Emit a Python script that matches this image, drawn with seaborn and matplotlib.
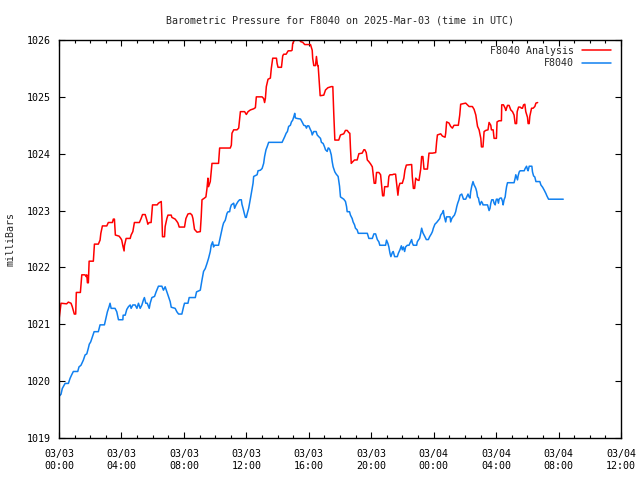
import matplotlib
matplotlib.use('Agg')
import matplotlib.pyplot as plt
import matplotlib.dates as mdates
import seaborn as sns
import pandas as pd

sns.set_theme(style='ticks')
plt.rcParams['font.family'] = ['DejaVu Sans Mono']

# hours after 2025-03-03 00:00 UTC, pressure in millibars
analysis_hours = [
    0.00, 0.13, 0.49, 0.60, 0.77, 0.85, 0.98, 1.07, 1.11, 1.37, 1.46, 1.67, 1.73, 1.78, 1.82, 1.88,
    1.93, 2.20, 2.27, 2.52, 2.63, 2.68, 2.78, 3.06, 3.16, 3.42, 3.48, 3.55, 3.61, 3.85, 3.96, 4.02,
    4.09, 4.17, 4.19, 4.30, 4.56, 4.62, 4.73, 4.83, 5.15, 5.26, 5.35, 5.52, 5.63, 5.69, 5.78, 5.90,
    5.99, 6.29, 6.37, 6.55, 6.59, 6.63, 6.76, 6.80, 6.91, 6.98, 7.19, 7.23, 7.44, 7.55, 7.62, 7.70,
    8.04, 8.13, 8.26, 8.41, 8.52, 8.58, 8.68, 8.84, 9.05, 9.11, 9.16, 9.32, 9.41, 9.48, 9.54, 9.58,
    9.69, 9.80, 10.22, 10.29, 10.97, 11.04, 11.08, 11.19, 11.40, 11.51, 11.62, 11.89, 12.00, 12.11,
    12.26, 12.47, 12.58, 12.64, 13.01, 13.11, 13.17, 13.22, 13.28, 13.39, 13.54, 13.60, 13.69, 13.93,
    13.97, 14.03, 14.25, 14.33, 14.39, 14.55, 14.68, 14.87, 14.93, 14.97, 15.06, 15.14, 15.40, 15.49,
    15.61, 15.74, 16.11, 16.22, 16.25, 16.32, 16.43, 16.49, 16.56, 16.60, 16.64, 16.69, 16.73, 16.96,
    17.07, 17.22, 17.44, 17.54, 17.60, 17.67, 17.92, 18.03, 18.24, 18.35, 18.46, 18.57, 18.63, 18.67,
    18.72, 18.82, 18.93, 19.10, 19.21, 19.42, 19.53, 19.59, 19.68, 19.75, 19.85, 19.96, 20.07, 20.13,
    20.19, 20.28, 20.34, 20.49, 20.60, 20.66, 20.73, 20.81, 20.86, 21.07, 21.13, 21.20, 21.35, 21.45,
    21.56, 21.63, 21.71, 21.77, 21.84, 21.99, 22.09, 22.16, 22.25, 22.59, 22.63, 22.70, 22.78, 22.85,
    22.95, 23.06, 23.17, 23.23, 23.31, 23.38, 23.60, 23.70, 23.92, 24.13, 24.19, 24.24, 24.45, 24.56,
    24.73, 24.77, 24.83, 24.98, 25.09, 25.20, 25.30, 25.58, 25.67, 25.73, 26.05, 26.16, 26.27, 26.48,
    26.59, 26.70, 26.81, 26.91, 27.02, 27.06, 27.16, 27.23, 27.34, 27.48, 27.55, 27.66, 27.70, 27.81,
    27.87, 28.02, 28.06, 28.19, 28.34, 28.36, 28.47, 28.58, 28.62, 28.73, 28.83, 28.94, 29.05, 29.15,
    29.22, 29.31, 29.35, 29.44, 29.54, 29.63, 29.69, 29.76, 29.84, 29.90, 30.01, 30.05, 30.12, 30.16,
    30.27, 30.37, 30.48, 30.55, 30.66,
]
analysis_mbar = [
    1021.08, 1021.37, 1021.36, 1021.39, 1021.37, 1021.31, 1021.18, 1021.18, 1021.56, 1021.56, 1021.87, 1021.87, 1021.84, 1021.87, 1021.73, 1021.73,
    1022.11, 1022.11, 1022.41, 1022.41, 1022.48, 1022.60, 1022.73, 1022.73, 1022.79, 1022.79, 1022.85, 1022.85, 1022.57, 1022.55, 1022.51, 1022.48,
    1022.38, 1022.29, 1022.38, 1022.51, 1022.51, 1022.57, 1022.63, 1022.79, 1022.79, 1022.86, 1022.93, 1022.93, 1022.83, 1022.76, 1022.79, 1022.79,
    1023.10, 1023.10, 1023.13, 1023.16, 1022.89, 1022.54, 1022.54, 1022.72, 1022.86, 1022.92, 1022.92, 1022.88, 1022.85, 1022.81, 1022.78, 1022.71,
    1022.71, 1022.86, 1022.94, 1022.95, 1022.92, 1022.86, 1022.67, 1022.62, 1022.63, 1022.89, 1023.19, 1023.22, 1023.24, 1023.39, 1023.57, 1023.42,
    1023.51, 1023.83, 1023.83, 1024.10, 1024.10, 1024.15, 1024.36, 1024.42, 1024.42, 1024.45, 1024.74, 1024.74, 1024.69, 1024.74,
    1024.77, 1024.79, 1024.81, 1025.00, 1025.00, 1024.97, 1024.90, 1024.97, 1025.18, 1025.31, 1025.33, 1025.50, 1025.68, 1025.68,
    1025.59, 1025.52, 1025.52, 1025.72, 1025.75, 1025.75, 1025.81, 1025.81, 1025.82, 1025.94, 1025.99, 1026.00, 1026.00, 1025.97,
    1025.96, 1025.92, 1025.92, 1025.82, 1025.68, 1025.55, 1025.55, 1025.71, 1025.55, 1025.55, 1025.38, 1025.18, 1025.02, 1025.03,
    1025.12, 1025.16, 1025.18, 1025.18, 1024.71, 1024.24, 1024.24, 1024.33, 1024.35, 1024.41, 1024.41, 1024.37, 1024.36, 1024.10,
    1023.83, 1023.86, 1023.89, 1023.89, 1024.00, 1024.01, 1024.07, 1024.07, 1024.02, 1023.89, 1023.86, 1023.82, 1023.77, 1023.63,
    1023.48, 1023.48, 1023.67, 1023.67, 1023.63, 1023.45, 1023.26, 1023.26, 1023.42, 1023.42, 1023.60, 1023.63, 1023.63, 1023.64,
    1023.64, 1023.47, 1023.27, 1023.42, 1023.48, 1023.48, 1023.57, 1023.71, 1023.80, 1023.81, 1023.60, 1023.39, 1023.39, 1023.57,
    1023.54, 1023.53, 1023.73, 1023.95, 1023.95, 1023.73, 1023.73, 1024.01, 1024.01, 1024.02, 1024.21, 1024.33, 1024.35, 1024.31,
    1024.29, 1024.36, 1024.56, 1024.54, 1024.48, 1024.45, 1024.50, 1024.50, 1024.68, 1024.87, 1024.89, 1024.86, 1024.83, 1024.83,
    1024.78, 1024.68, 1024.48, 1024.42, 1024.27, 1024.12, 1024.12, 1024.39, 1024.41, 1024.42, 1024.55, 1024.50, 1024.42, 1024.42,
    1024.27, 1024.27, 1024.56, 1024.58, 1024.58, 1024.86, 1024.86, 1024.80, 1024.76, 1024.85, 1024.85, 1024.77, 1024.74, 1024.68,
    1024.53, 1024.53, 1024.74, 1024.82, 1024.82, 1024.80, 1024.80, 1024.86, 1024.87, 1024.74, 1024.64, 1024.53, 1024.53, 1024.66,
    1024.80, 1024.80, 1024.83, 1024.89, 1024.90,
]

station_hours = [
    0.00, 0.13, 0.21, 0.39, 0.60, 0.71, 0.81, 0.92, 1.20, 1.28, 1.41, 1.56, 1.67, 1.78, 1.88, 1.94,
    2.03, 2.14, 2.25, 2.52, 2.63, 2.91, 3.00, 3.10, 3.21, 3.27, 3.34, 3.59, 3.70, 3.81, 4.09, 4.11,
    4.24, 4.34, 4.45, 4.56, 4.62, 4.73, 4.88, 4.99, 5.09, 5.20, 5.31, 5.41, 5.47, 5.56, 5.65, 5.78,
    5.84, 5.95, 6.12, 6.22, 6.37, 6.59, 6.69, 6.80, 6.91, 7.01, 7.12, 7.19, 7.44, 7.55, 7.66, 7.87,
    7.98, 8.04, 8.26, 8.34, 8.73, 8.81, 9.05, 9.16, 9.26, 9.37, 9.48, 9.58, 9.69, 9.75, 9.84, 9.90,
    9.95, 10.22, 10.29, 10.33, 10.40, 10.48, 10.54, 10.65, 10.76, 10.83, 10.93, 10.97, 11.04, 11.19,
    11.25, 11.34, 11.47, 11.57, 11.62, 11.68, 11.72, 11.79, 11.87, 11.94, 12.00, 12.06, 12.15, 12.21,
    12.28, 12.37, 12.43, 12.47, 12.69, 12.75, 12.90, 13.01, 13.11, 13.17, 13.26, 13.33, 13.43, 14.29,
    14.36, 14.46, 14.55, 14.63, 14.71, 14.82, 14.89, 14.97, 15.04, 15.10, 15.14, 15.25, 15.47, 15.57,
    15.68, 15.79, 15.85, 15.91, 16.00, 16.06, 16.11, 16.17, 16.22, 16.32, 16.47, 16.54, 16.64, 16.75,
    16.81, 16.92, 17.01, 17.07, 17.18, 17.24, 17.28, 17.35, 17.44, 17.50, 17.56, 17.67, 17.76, 17.88,
    17.97, 18.03, 18.14, 18.24, 18.35, 18.42, 18.46, 18.61, 18.67, 18.78, 18.84, 18.93, 18.99, 19.10,
    19.17, 19.75, 19.85, 20.07, 20.17, 20.28, 20.39, 20.49, 20.55, 20.92, 20.98, 21.07, 21.13, 21.20,
    21.26, 21.35, 21.41, 21.50, 21.67, 21.74, 21.84, 21.93, 21.99, 22.06, 22.14, 22.20, 22.31, 22.42,
    22.52, 22.59, 22.63, 22.70, 22.91, 22.95, 23.02, 23.10, 23.17, 23.23, 23.31, 23.38, 23.44, 23.53,
    23.66, 23.74, 23.85, 23.92, 23.98, 24.08, 24.19, 24.30, 24.39, 24.45, 24.56, 24.62, 24.66, 24.77,
    24.83, 25.05, 25.09, 25.16, 25.24, 25.33, 25.41, 25.48, 25.54, 25.62, 25.69, 25.80, 25.91, 26.05,
    26.12, 26.20, 26.27, 26.33, 26.37, 26.44, 26.52, 26.59, 26.65, 26.70, 26.76, 26.81, 26.87, 26.91,
    26.97, 27.06, 27.13, 27.16, 27.45, 27.51, 27.55, 27.61, 27.66, 27.72, 27.81, 27.87, 27.94, 27.98,
    28.02, 28.09, 28.15, 28.19, 28.26, 28.34, 28.41, 28.45, 28.51, 28.58, 28.62, 28.67, 28.73, 29.15,
    29.22, 29.26, 29.31, 29.37, 29.41, 29.48, 29.54, 29.80, 29.86, 29.95, 30.01, 30.05, 30.12, 30.29,
    30.33, 30.40, 30.48, 30.55, 30.80, 30.87, 30.98, 31.08, 31.19, 31.25, 31.32, 31.36, 32.30,
]
station_mbar = [
    1019.73, 1019.77, 1019.87, 1019.96, 1019.96, 1020.05, 1020.11, 1020.17, 1020.17, 1020.25, 1020.28, 1020.37, 1020.46, 1020.48, 1020.58, 1020.65,
    1020.69, 1020.78, 1020.87, 1020.87, 1020.99, 1020.99, 1021.10, 1021.22, 1021.31, 1021.37, 1021.28, 1021.28, 1021.22, 1021.08, 1021.08, 1021.16,
    1021.16, 1021.26, 1021.31, 1021.34, 1021.28, 1021.34, 1021.34, 1021.28, 1021.37, 1021.28, 1021.34, 1021.43, 1021.47, 1021.37, 1021.37, 1021.28,
    1021.37, 1021.47, 1021.49, 1021.57, 1021.67, 1021.67, 1021.60, 1021.66, 1021.57, 1021.49, 1021.40, 1021.30, 1021.28, 1021.22, 1021.18, 1021.18,
    1021.31, 1021.37, 1021.37, 1021.47, 1021.47, 1021.57, 1021.60, 1021.78, 1021.93, 1021.98, 1022.07, 1022.16, 1022.28, 1022.39, 1022.45, 1022.36,
    1022.39, 1022.39, 1022.48, 1022.54, 1022.63, 1022.72, 1022.78, 1022.83, 1022.95, 1022.98, 1022.98, 1023.04, 1023.10, 1023.13,
    1023.04, 1023.10, 1023.16, 1023.19, 1023.19, 1023.19, 1023.11, 1023.04, 1022.95, 1022.88, 1022.88, 1022.95, 1023.04, 1023.13,
    1023.24, 1023.39, 1023.48, 1023.60, 1023.63, 1023.70, 1023.71, 1023.74, 1023.83, 1023.95, 1024.07, 1024.12, 1024.20, 1024.20,
    1024.24, 1024.30, 1024.36, 1024.39, 1024.48, 1024.50, 1024.56, 1024.59, 1024.65, 1024.71, 1024.63, 1024.62, 1024.61, 1024.56,
    1024.50, 1024.49, 1024.45, 1024.49, 1024.49, 1024.45, 1024.42, 1024.39, 1024.33, 1024.39, 1024.39, 1024.33, 1024.30, 1024.27,
    1024.20, 1024.18, 1024.12, 1024.07, 1024.04, 1024.10, 1024.10, 1024.07, 1023.98, 1023.86, 1023.77, 1023.68, 1023.64, 1023.60,
    1023.43, 1023.24, 1023.22, 1023.20, 1023.16, 1023.07, 1022.98, 1022.98, 1022.92, 1022.86, 1022.80, 1022.75, 1022.69, 1022.66,
    1022.60, 1022.60, 1022.51, 1022.51, 1022.59, 1022.59, 1022.49, 1022.45, 1022.39, 1022.39, 1022.48, 1022.42, 1022.36, 1022.25,
    1022.19, 1022.26, 1022.28, 1022.19, 1022.19, 1022.25, 1022.31, 1022.38, 1022.31, 1022.36, 1022.28, 1022.36, 1022.39, 1022.39,
    1022.45, 1022.49, 1022.43, 1022.39, 1022.39, 1022.45, 1022.48, 1022.51, 1022.60, 1022.69, 1022.61, 1022.57, 1022.54, 1022.49,
    1022.49, 1022.54, 1022.59, 1022.63, 1022.69, 1022.76, 1022.79, 1022.83, 1022.86, 1022.92, 1022.96, 1023.00, 1022.92, 1022.80,
    1022.89, 1022.89, 1022.80, 1022.86, 1022.89, 1022.92, 1022.98, 1023.07, 1023.13, 1023.19, 1023.27, 1023.29, 1023.20, 1023.20,
    1023.24, 1023.29, 1023.24, 1023.22, 1023.33, 1023.43, 1023.51, 1023.45, 1023.42, 1023.39, 1023.33, 1023.24, 1023.22, 1023.16,
    1023.10, 1023.16, 1023.13, 1023.10, 1023.10, 1023.04, 1023.00, 1023.04, 1023.13, 1023.19, 1023.19, 1023.13, 1023.10, 1023.16,
    1023.20, 1023.20, 1023.13, 1023.20, 1023.22, 1023.22, 1023.16, 1023.10, 1023.19, 1023.24, 1023.33, 1023.42, 1023.49, 1023.49,
    1023.57, 1023.63, 1023.59, 1023.54, 1023.61, 1023.68, 1023.70, 1023.70, 1023.74, 1023.78, 1023.72, 1023.70, 1023.78, 1023.78,
    1023.68, 1023.61, 1023.59, 1023.51, 1023.51, 1023.45, 1023.41, 1023.36, 1023.30, 1023.26, 1023.22, 1023.20, 1023.20,
]

series_names = ['F8040 Analysis', 'F8040']
series_colors = ['#ff0000', '#1080f0']

start = pd.Timestamp('2025-03-03 00:00')
df = pd.concat([
    pd.DataFrame({'time': start + pd.to_timedelta(analysis_hours, unit='h'),
                  'mbar': analysis_mbar, 'series': series_names[0]}),
    pd.DataFrame({'time': start + pd.to_timedelta(station_hours, unit='h'),
                  'mbar': station_mbar, 'series': series_names[1]}),
])

fig = plt.figure(figsize=(6.4, 4.8), dpi=100)
ax = fig.add_axes([59 / 640, 1 - 438 / 480, (621 - 59) / 640, (438 - 40) / 480])

sns.lineplot(data=df, x='time', y='mbar', hue='series', hue_order=series_names,
             palette=series_colors, estimator=None, sort=False, linewidth=1.1, ax=ax)

ax.set_xlim(start, start + pd.Timedelta(hours=36))
ax.set_ylim(1019, 1026)
ax.set_yticks(range(1019, 1027))
ax.xaxis.set_major_locator(mdates.HourLocator(byhour=range(0, 24, 4)))
ax.xaxis.set_minor_locator(mdates.HourLocator())
ax.xaxis.set_major_formatter(mdates.DateFormatter('%m/%d\n%H:%M'))

ax.tick_params(axis='both', which='both', direction='in', top=True, right=True,
               labelsize=7.2, colors='black', width=0.8)
ax.tick_params(axis='both', which='major', length=4.5)
ax.tick_params(axis='x', which='minor', length=2.5)
ax.tick_params(axis='x', which='major', pad=8)
ax.tick_params(axis='y', which='major', pad=6)
for s in ax.spines.values():
    s.set_color('black')
    s.set_linewidth(1.0)

ax.set_xlabel('')
ax.set_ylabel('milliBars', fontsize=7.2, labelpad=8)
ax.set_title('Barometric Pressure for F8040 on 2025-Mar-03 (time in UTC)',
             fontsize=7.2, pad=12)

handles, labels = ax.get_legend_handles_labels()
ax.legend(handles, labels, loc='upper right', bbox_to_anchor=(0.982, 0.986),
          frameon=False, markerfirst=False, fontsize=7.2, handlelength=2.9,
          handletextpad=0.8, labelspacing=0.25, borderpad=0, borderaxespad=0)

fig.savefig('out.png', dpi=100)
